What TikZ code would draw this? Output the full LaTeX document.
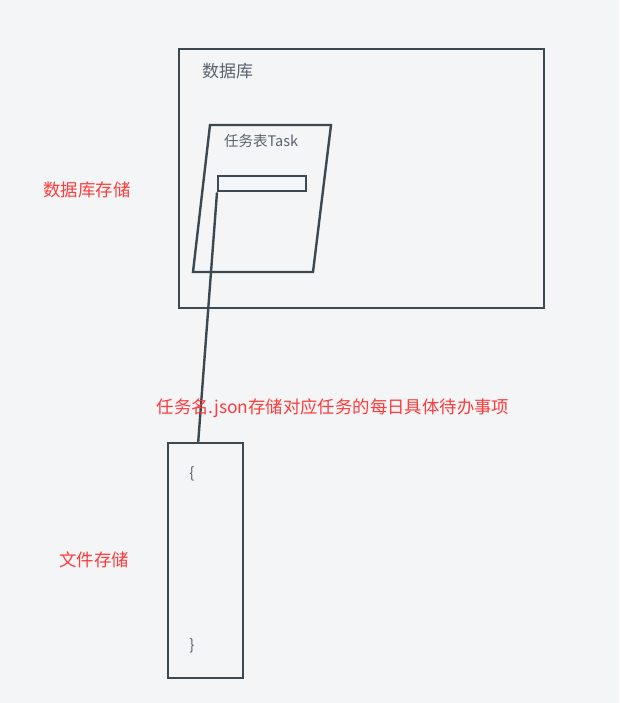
\documentclass[tikz,border=0pt]{standalone}
\usepackage{fontspec}
\setmainfont{Noto Sans CJK SC}
\definecolor{bgcol}{HTML}{F3F5F7}
\definecolor{edgecol}{HTML}{3D4851}
\definecolor{notecol}{HTML}{FF3B3B}
\tikzset{
    box/.style={draw=edgecol, line width=2.4pt, inner sep=0pt},
    boxtext/.style={text=edgecol!85, inner sep=0pt, font=\fontsize{17}{20}\selectfont},
    note/.style={text=notecol, inner sep=0pt, font=\fontsize{17.4}{20}\selectfont}
}
\begin{document}
\begin{tikzpicture}[x=1pt, y=-1pt]
    % Background
    \fill[bgcol] (0,0) rectangle (619,703);
    \useasboundingbox (0,0) rectangle (619,703);

    % Database box
    \node[box, minimum width=365pt, minimum height=259pt, anchor=north west] (db) at (178,48) {};
    \node[boxtext, anchor=west] (dbname) at (202,71) {数据库};

    % Task table (slanted)
    \coordinate (tnw) at (210,125);
    \coordinate (tne) at (331,125);
    \coordinate (tse) at (313,272);
    \coordinate (tsw) at (193,272);
    \draw[edgecol, line width=2.4pt, line join=miter] (tnw) -- (tne) -- (tse) -- (tsw) -- cycle;
    \node[boxtext, anchor=west, font=\fontsize{14.5}{17}\selectfont] (taskname) at (224,141) {任务表Task};
    \node[box, minimum width=88pt, minimum height=15pt, anchor=north west] (field) at (217,175) {};

    % File box
    \node[box, minimum width=75pt, minimum height=235pt, anchor=north west] (file) at (167,442) {};
    \node[boxtext, font=\fontsize{15}{17}\selectfont] (open) at (192,474) {\{};
    \node[boxtext, font=\fontsize{15}{17}\selectfont] (close) at (192,646) {\}};

    % Link field -> file
    \draw[edgecol, line width=2.4pt] (field.south west) -- ([xshift=-7.5pt]file.north);

    % Notes
    \node[note] (dbnote) at (87,190) {数据库存储};
    \node[note] (filenote) at (94,560) {文件存储};
    \node[note] (jsonnote) at (333,408) {任务名.json存储对应任务的每日具体待办事项};
\end{tikzpicture}
\end{document}
